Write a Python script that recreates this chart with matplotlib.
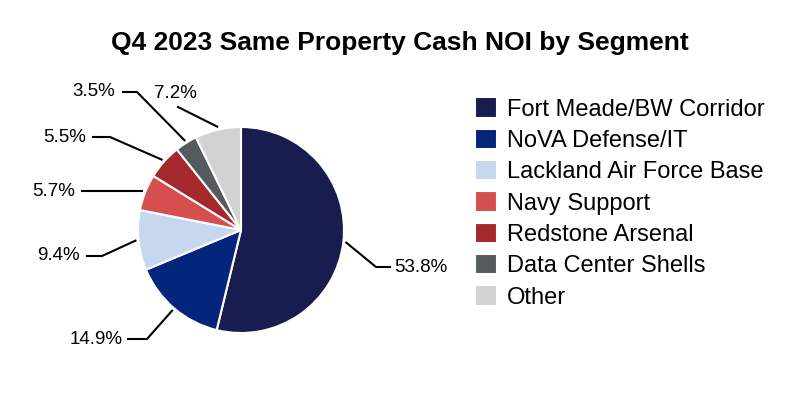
import matplotlib.pyplot as plt
import numpy as np

plt.rcParams['font.family'] = ['Liberation Sans', 'DejaVu Sans']

segments = ['Fort Meade/BW Corridor', 'NoVA Defense/IT', 'Lackland Air Force Base',
            'Navy Support', 'Redstone Arsenal', 'Data Center Shells', 'Other']
shares = [53.8, 14.9, 9.4, 5.7, 5.5, 3.5, 7.2]
colors = ['#181c4e', '#03257c', '#c5d8ef', '#d64f4f', '#a5292c', '#555a5c', '#d2d2d2']

# pie centre and radius in pixels
cx, cy, R = 241, 230, 103
# leader line elbow / end points and label anchor (pixels)
elbows = [(376, 267), (147, 339), (102, 256), (110, 192), (110, 137), (137, 92), (178, 107)]
ends = [(390, 267), (128, 339), (87, 256), (82, 192), (93, 137), (123, 92), (178, 107)]
txt = [(394, 267, 'left'), (123, 339, 'right'), (80, 256, 'right'), (75, 192, 'right'),
       (86, 137, 'right'), (115, 92, 'right'), (175, 93, 'center')]

def px(x, y):
    return (x - cx) / R, (cy - y) / R

fig = plt.figure(figsize=(8, 4), dpi=100)
ax = fig.add_axes([0, 0, 1, 1])
wedges, _ = ax.pie(shares, colors=colors, startangle=90, counterclock=False, radius=1,
                   wedgeprops=dict(edgecolor='white', linewidth=1.5))
ax.set_xlim(-cx / R, (800 - cx) / R)
ax.set_ylim(-(400 - cy) / R, cy / R)
ax.set_aspect('equal')
ax.axis('off')

for i, w in enumerate(wedges):
    ang = np.deg2rad((w.theta1 + w.theta2) / 2)
    sx, sy = 1.03 * np.cos(ang), 1.03 * np.sin(ang)
    ex, ey = px(*elbows[i])
    fx, fy = px(*ends[i])
    if i == 3:
        ey = fy = sy
    ax.plot([sx, ex, fx], [sy, ey, fy], color='black', lw=1.5)
    tx, ty = px(txt[i][0], txt[i][1])
    ax.text(tx, ty, f'{shares[i]:.1f}%', ha=txt[i][2], va='center', fontsize=13.5)

fig.text(0.5, 0.893, 'Q4 2023 Same Property Cash NOI by Segment', ha='center', va='center',
         fontsize=19, fontweight='bold')

fig.legend(wedges, segments, loc='upper left', bbox_to_anchor=(0.582, 0.78), frameon=False,
           fontsize=17, handlelength=0.95, handleheight=0.95, handletextpad=0.4,
           labelspacing=0.34, borderaxespad=0)

plt.savefig('out.png', dpi=100)
